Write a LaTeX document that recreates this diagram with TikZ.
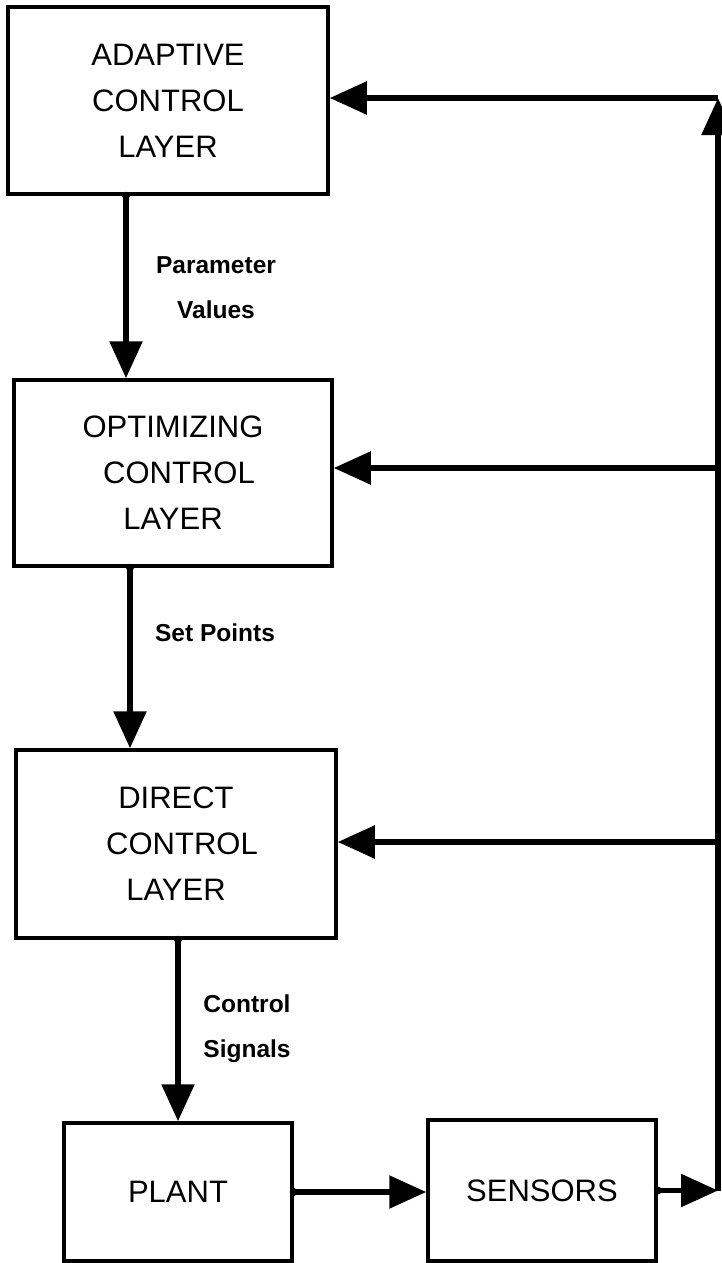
\documentclass[tikz,border=0pt]{standalone}
\usepackage{fontspec}
\setmainfont{Liberation Sans}
\usetikzlibrary{arrows.meta}

\tikzset{
  layerbox/.style={draw, line width=3.5pt, inner sep=0pt, align=center,
    font=\fontsize{31}{46}\selectfont},
  flow/.style={line width=5.5pt, -{Triangle[length=37pt,width=32pt]}},
  joint/.style={circle, fill, inner sep=0pt, minimum size=8pt},
  tag/.style={align=center, inner sep=0pt,
    font=\fontsize{24.5}{45}\selectfont\bfseries}
}

\begin{document}
\begin{tikzpicture}[x=1pt,y=1pt]
  \useasboundingbox (0,0) rectangle (722,-1263);

  % control hierarchy
  \node[layerbox, minimum width=320pt, minimum height=187pt] (ada) at (168,-100.5)
    {ADAPTIVE\\CONTROL\\LAYER};
  \node[layerbox, minimum width=318pt, minimum height=186pt] (opt) at (173,-473)
    {OPTIMIZING\\\hspace*{12pt}CONTROL\\LAYER};
  \node[layerbox, minimum width=320pt, minimum height=188pt] (dir) at (176,-844)
    {DIRECT\\\hspace*{12pt}CONTROL\\LAYER};
  \node[layerbox, minimum width=228pt, minimum height=138pt] (plant) at (178,-1192)
    {PLANT};
  \node[layerbox, minimum width=228pt, minimum height=141pt] (sens) at (542,-1190.5)
    {SENSORS};

  % feedback bus on the right
  \coordinate (top)  at (718,-98);
  \coordinate (bot)  at (718,-1190);
  \coordinate (tapO) at (718,-468);
  \coordinate (tapD) at (718,-842);

  % columns of the downward links
  \coordinate (c1) at (126,0);
  \coordinate (c2) at (130,0);

  % small joints where links leave a box
  \node[joint] (j1) at (ada.south -| c1) {};
  \node[joint] (j2) at (opt.south -| c2) {};
  \node[joint] (j3) at (dir.south -| plant.north) {};
  \node[joint] (j4) at (plant.east) {};
  \node[joint] (j5) at (sens.east) {};

  % downward links
  \draw[flow] (j1.center) -- (opt.north -| c1);
  \draw[flow] (j2.center) -- (dir.north -| c2);
  \draw[flow] (j3.center) -- (plant.north);

  % plant to sensors to feedback bus
  \draw[flow] (j4.center) -- (plant.east -| sens.west);
  \draw[flow] (j5.center) -- (sens.east -| bot);
  \draw[flow] (sens.east -| bot) -- (top);

  % feedback into each layer
  \draw[flow] (top) -- (ada.east |- top);
  \draw[flow] (tapO) -- (opt.east |- tapO);
  \draw[flow] (tapD) -- (dir.east |- tapD);

  % link labels
  \node[tag] (lpv) at (216,-287.5) {Parameter\\Values};
  \node[tag] (lsp) at (215,-633) {Set Points};
  \node[tag] (lcs) at (247,-1028.5) {Control\\Signals};
\end{tikzpicture}
\end{document}
